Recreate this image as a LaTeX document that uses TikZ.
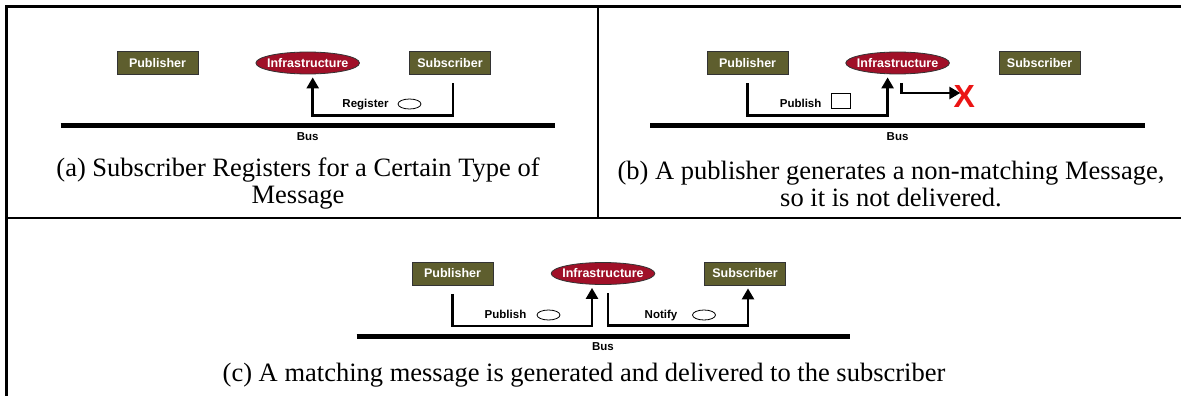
\documentclass[tikz,border=0pt]{standalone}
\usepackage{fontspec}
\setmainfont{Liberation Serif}
\newfontfamily\diagfont{Liberation Sans}
\usetikzlibrary{shapes.geometric,arrows.meta}
\definecolor{olivebox}{RGB}{94,94,46}
\definecolor{infrared}{RGB}{160,16,40}
\definecolor{failred}{RGB}{235,20,20}

\begin{document}
\begin{tikzpicture}[x=1pt,y=-1pt,
    actor/.style={draw=black!80,line width=0.8pt,fill=olivebox,text=white,font=\diagfont\bfseries\fontsize{12.5}{14}\selectfont,minimum width=81pt,minimum height=23pt,inner sep=0pt},
    infra/.style={ellipse,draw=black!80,line width=0.8pt,fill=infrared,text=white,font=\diagfont\bfseries\fontsize{12.5}{14}\selectfont,minimum width=100pt,minimum height=22pt,inner xsep=-4pt,inner ysep=-3pt},
    msg/.style={line width=2.5pt,-{Triangle[length=11pt,width=12pt]}},
    lbl/.style={font=\diagfont\bfseries\fontsize{11.5}{13}\selectfont,inner sep=0pt,text height=8.5pt,text depth=2.5pt},
    token/.style={ellipse,draw,line width=0.8pt,fill=white,minimum width=23pt,minimum height=10pt,inner sep=0pt},
    tokensq/.style={draw,line width=0.8pt,fill=white,minimum width=19pt,minimum height=15pt,inner sep=0pt},
    bus/.style={line width=5pt},
    caption/.style={align=center,font=\fontsize{26.5}{27}\selectfont,inner sep=0pt}]
  \useasboundingbox (0,0) rectangle (1181,396);
  % frame
  \draw[line width=2.5pt] (6.5,396) -- (6.5,6.5) -- (1181,6.5);
  \draw[line width=2.5pt] (6.5,218) -- (1181,218);
  \draw[line width=1.5pt] (597.8,6.5) -- (597.8,218);

  % (a) subscriber registers
  \begin{scope}[shift={(307.7,63)}]
    \node[actor] (pubA) at (-150.2,0) {Publisher};
    \node[infra] (infA) at (0,0) {Infrastructure};
    \node[actor] (subA) at (142.3,0) {Subscriber};
    \draw[msg] ([xshift=3pt,yshift=-8.5pt]subA.south) -- ++(0,32) -| ([xshift=5pt,yshift=-3pt]infA.south);
    \node[lbl] (regA) at (57.8,41) {Register};
    \node[token] (tokA) at (101.8,41) {};
    \draw[bus] (-247.2,62.5) -- (247.2,62.5);
    \node[lbl] (busA) at (0,74) {Bus};
  \end{scope}
  \node[caption] (capA) at (298,183.5) {(a) Subscriber Registers for a Certain Type of\\Message};

  % (b) non-matching message
  \begin{scope}[shift={(897.6,63)}]
    \node[actor] (pubB) at (-150,0) {Publisher};
    \node[infra] (infB) at (0,0) {Infrastructure};
    \node[actor] (subB) at (142,0) {Subscriber};
    \draw[msg] ([yshift=-8.5pt]pubB.south) -- ++(0,32) -| ([xshift=-10pt,yshift=-3pt]infB.south);
    \node[lbl] (pubmsgB) at (-97,41) {Publish};
    \node[tokensq] (tokB) at (-57,37.5) {};
    \node[text=failred,font=\diagfont\bfseries\fontsize{32}{32}\selectfont,inner sep=0pt] (failB) at (66.6,33.5) {X};
    \draw[msg] ([xshift=4pt,yshift=-8.5pt]infB.south) |- ([xshift=7pt,yshift=3.5pt]failB.west);
    \draw[bus] (-247.2,62.5) -- (247.2,62.5);
    \node[lbl] (busB) at (0,74) {Bus};
  \end{scope}
  \node[caption] (capB) at (891,183.5) {(b) A publisher generates a non-matching Message,\\so it is not delivered.};

  % (c) matching message delivered
  \begin{scope}[shift={(603,273.5)}]
    \node[actor] (pubC) at (-150.5,0) {Publisher};
    \node[infra] (infC) at (0,0) {Infrastructure};
    \node[actor] (subC) at (142,0) {Subscriber};
    \draw[msg] ([yshift=-8.5pt]pubC.south) -- ++(0,32) -| ([xshift=-11pt,yshift=-3pt]infC.south);
    \draw[msg] ([xshift=5pt,yshift=-8.5pt]infC.south) -- ++(0,32) -| ([xshift=3pt,yshift=-3pt]subC.south);
    \node[lbl] (pubmsgC) at (-97.5,41.5) {Publish};
    \node[token] (tokC1) at (-54.5,41.5) {};
    \node[lbl] (notC) at (58,41.5) {Notify};
    \node[token] (tokC2) at (101,41.5) {};
    \draw[bus] (-246.5,62.5) -- (246.5,62.5);
    \node[lbl] (busC) at (0,74) {Bus};
  \end{scope}
  \node[caption] (capC) at (584,375) {(c) A matching message is generated and delivered to the subscriber};
\end{tikzpicture}
\end{document}
